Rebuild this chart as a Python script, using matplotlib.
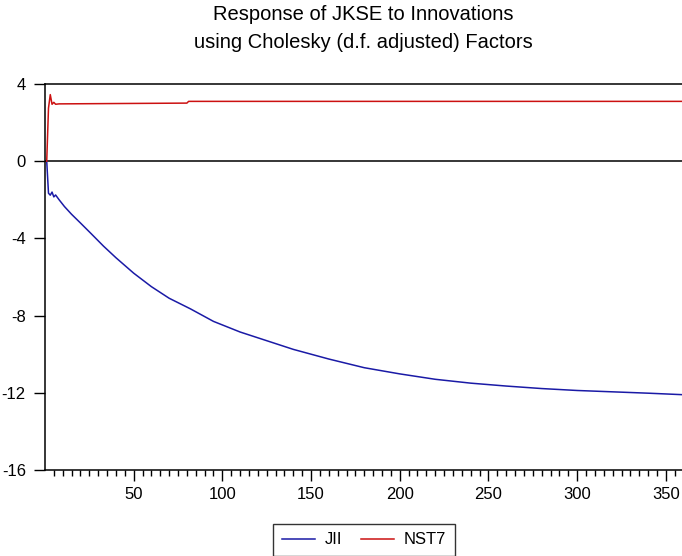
import numpy as np
import matplotlib.pyplot as plt
from matplotlib.ticker import MultipleLocator


# --------------------------------------------------
# Data
# --------------------------------------------------

jii_period = [1, 2, 3, 4, 5, 6, 8, 11, 15, 20, 26, 33, 40, 50, 60, 70, 82,
              95, 110, 125, 140, 160, 180, 200, 220, 240, 260, 280, 300,
              320, 340, 360]
jii_value = [0.0, -1.66, -1.76, -1.6, -1.85, -1.75, -2.0, -2.35, -2.75,
             -3.2, -3.75, -4.4, -5.0, -5.8, -6.5, -7.1, -7.65, -8.3, -8.85,
             -9.3, -9.75, -10.25, -10.7, -11.02, -11.3, -11.5, -11.65,
             -11.78, -11.88, -11.95, -12.02, -12.1]

nst7_period = [1, 2, 3, 4, 5, 6, 8, 80, 81, 360]
nst7_value = [0.0, 2.75, 3.45, 2.95, 3.05, 2.95, 2.97, 3.01, 3.1, 3.1]

series_names = ["JII", "NST7"]
y_ticks = [4, 0, -4, -8, -12, -16]
x_ticks = [50, 100, 150, 200, 250, 300, 350]


# --------------------------------------------------
# Figure
# --------------------------------------------------

plt.rcParams["font.family"] = ["Liberation Sans", "DejaVu Sans"]
plt.rcParams["axes.unicode_minus"] = False

W, H = 682, 556
fig = plt.figure(figsize=(W / 100, H / 100), dpi=100)

left, right = 45.3, 683.6
top, bottom = 84, 470
ax = fig.add_axes([left / W, 1 - bottom / H, (right - left) / W, (bottom - top) / H])

ax.plot(jii_period, jii_value, color="#1a1aa6", lw=1.1, label=series_names[0])
ax.plot(nst7_period, nst7_value, color="#cc1111", lw=1.1, label=series_names[1])
ax.axhline(0, color="black", lw=1.1, zorder=1)

ax.set_xlim(0.2, 360)
ax.set_ylim(-16, 4)

ax.set_yticks(y_ticks)
ax.set_xticks(x_ticks)
ax.xaxis.set_minor_locator(MultipleLocator(5))

ax.tick_params(axis="both", which="major", direction="out", length=8,
               width=1, color="black", labelsize=12, pad=4)
ax.tick_params(axis="x", which="minor", direction="out", length=4, width=1)
ax.tick_params(axis="y", pad=6)

for side in ["left", "bottom", "top"]:
    ax.spines[side].set_linewidth(1.1)
ax.spines["right"].set_visible(False)

fig.text(363 / W, 1 - 15 / H, "Response of JKSE to Innovations",
         ha="center", va="center", fontsize=14.5)
fig.text(363 / W, 1 - 43 / H, "using Cholesky (d.f. adjusted) Factors",
         ha="center", va="center", fontsize=14.5)

leg = fig.legend(loc="center", bbox_to_anchor=(364 / W, 1 - 540 / H), ncol=2,
                 frameon=True, fancybox=False, fontsize=12, handlelength=2.0,
                 columnspacing=1.1, handletextpad=0.6, borderpad=0.5)
leg.get_frame().set_edgecolor("black")
leg.get_frame().set_linewidth(1)

fig.savefig("out.png", dpi=100)
